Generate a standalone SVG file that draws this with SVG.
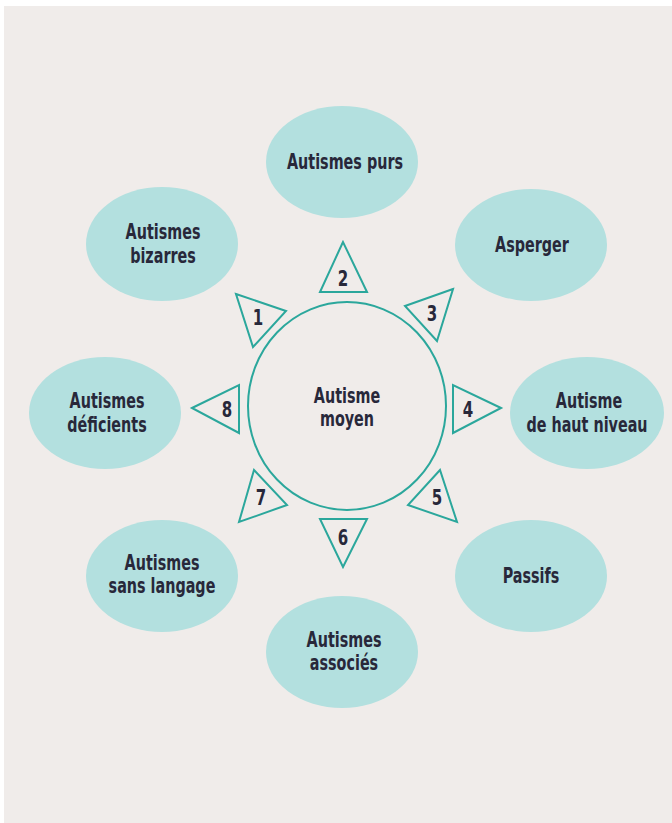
<svg xmlns="http://www.w3.org/2000/svg" width="672" height="823" viewBox="0 0 672 823">
  <style>
    .bubble { fill: #b3e0df; }
    .hub { fill: none; stroke: #2ba79c; stroke-width: 2; }
    .tri { fill: #f0ecea; stroke: #2ba79c; stroke-width: 2; stroke-linejoin: miter; }
    text { font-family: "DejaVu Sans Condensed", "Liberation Sans Narrow", "Liberation Sans", sans-serif; font-weight: bold; fill: #28283a; text-anchor: middle; }
    .lbl { font-size: 21px; }
    .num { font-size: 22px; }
  </style>
  <rect x="0" y="0" width="672" height="823" fill="#ffffff"/>
  <rect x="4" y="6" width="668" height="817" fill="#f0ecea"/>

  <!-- central node; labels are narrowed horizontally with a matrix -->
  <g id="autisme-moyen">
    <ellipse class="hub" cx="347" cy="406" rx="99" ry="104"/>
    <text class="lbl" transform="matrix(0.76 0 0 1 347 403)">Autisme</text>
    <text class="lbl" transform="matrix(0.76 0 0 1 347 426)">moyen</text>
  </g>

  <!-- numbered pointers from the hub to the outer nodes -->
  <g id="connectors">
    <g id="arrow-1"><polygon class="tri" points="236,294 286,311 253,347"/><text class="num" transform="matrix(0.76 0 0 1 258 325)">1</text></g>
    <g id="arrow-2"><polygon class="tri" points="343,242 320,292 367,292"/><text class="num" transform="matrix(0.76 0 0 1 343 286)">2</text></g>
    <g id="arrow-3"><polygon class="tri" points="453,289 405,306 437,341"/><text class="num" transform="matrix(0.76 0 0 1 432 321)">3</text></g>
    <g id="arrow-4"><polygon class="tri" points="501,408 453,385 453,433"/><text class="num" transform="matrix(0.76 0 0 1 468 417)">4</text></g>
    <g id="arrow-5"><polygon class="tri" points="440,470 408,505 457,522"/><text class="num" transform="matrix(0.76 0 0 1 437 505)">5</text></g>
    <g id="arrow-6"><polygon class="tri" points="320,519 367,519 343,567"/><text class="num" transform="matrix(0.76 0 0 1 343 545)">6</text></g>
    <g id="arrow-7"><polygon class="tri" points="254,470 287,505 239,522"/><text class="num" transform="matrix(0.76 0 0 1 261 505)">7</text></g>
    <g id="arrow-8"><polygon class="tri" points="192,408 239,385 239,433"/><text class="num" transform="matrix(0.76 0 0 1 227 417)">8</text></g>
  </g>

  <!-- outer nodes -->
  <g id="autismes-purs">
    <ellipse class="bubble" cx="342" cy="162" rx="76" ry="56"/>
    <text class="lbl" transform="matrix(0.76 0 0 1 345 169)">Autismes purs</text>
  </g>
  <g id="asperger">
    <ellipse class="bubble" cx="531" cy="245" rx="76" ry="56"/>
    <text class="lbl" transform="matrix(0.76 0 0 1 532 252)">Asperger</text>
  </g>
  <g id="autisme-haut-niveau">
    <ellipse class="bubble" cx="587" cy="413" rx="77" ry="56"/>
    <text class="lbl" transform="matrix(0.76 0 0 1 589 408)">Autisme</text>
    <text class="lbl" transform="matrix(0.76 0 0 1 587 432)">de haut niveau</text>
  </g>
  <g id="passifs">
    <ellipse class="bubble" cx="531" cy="576" rx="76" ry="56"/>
    <text class="lbl" transform="matrix(0.76 0 0 1 531 583)">Passifs</text>
  </g>
  <g id="autismes-associes">
    <ellipse class="bubble" cx="342" cy="652" rx="76" ry="56"/>
    <text class="lbl" transform="matrix(0.76 0 0 1 344 647)">Autismes</text>
    <text class="lbl" transform="matrix(0.76 0 0 1 344 670)">associés</text>
  </g>
  <g id="autismes-sans-langage">
    <ellipse class="bubble" cx="162" cy="576" rx="76" ry="56"/>
    <text class="lbl" transform="matrix(0.76 0 0 1 162 570)">Autismes</text>
    <text class="lbl" transform="matrix(0.76 0 0 1 162 593)">sans langage</text>
  </g>
  <g id="autismes-deficients">
    <ellipse class="bubble" cx="105" cy="413" rx="76" ry="56"/>
    <text class="lbl" transform="matrix(0.76 0 0 1 107 408)">Autismes</text>
    <text class="lbl" transform="matrix(0.76 0 0 1 107 432)">déficients</text>
  </g>
  <g id="autismes-bizarres">
    <ellipse class="bubble" cx="162" cy="244" rx="76" ry="57"/>
    <text class="lbl" transform="matrix(0.76 0 0 1 163 239)">Autismes</text>
    <text class="lbl" transform="matrix(0.76 0 0 1 163 263)">bizarres</text>
  </g>
</svg>
